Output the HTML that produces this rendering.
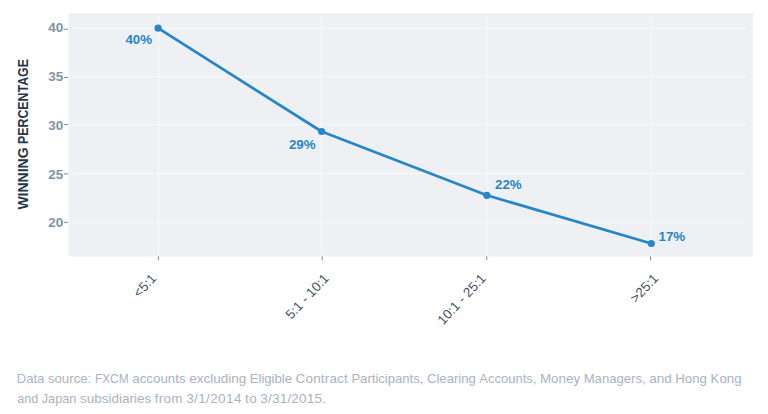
<!DOCTYPE html>
<html><head><meta charset="utf-8">
<style>
html,body{margin:0;padding:0;background:#fff;width:768px;height:414px;overflow:hidden;}
svg{position:absolute;left:0;top:0;}
text{font-family:"Liberation Sans",sans-serif;}
.yt{font-weight:bold;font-size:13.5px;fill:#8193ab;}
.xt{font-size:13.3px;fill:#3e4f63;}
.dl{font-weight:bold;font-size:13.3px;fill:#2686cb;}
.foot{font-size:13.5px;fill:#a8b3c4;}
</style></head>
<body>
<svg width="768" height="414" viewBox="0 0 768 414">
  <rect x="68.5" y="13" width="684.5" height="243.5" fill="#eff0f4"/>
  <g stroke="#f8f9fb" stroke-width="1">
    <line x1="72.7" y1="28.3" x2="746" y2="28.3"/>
    <line x1="72.7" y1="76.6" x2="746" y2="76.6"/>
    <line x1="72.7" y1="124.7" x2="746" y2="124.7"/>
    <line x1="72.7" y1="173.6" x2="746" y2="173.6"/>
    <line x1="72.7" y1="222.8" x2="746" y2="222.8"/>
    <line x1="158.2" y1="16.8" x2="158.2" y2="254"/>
    <line x1="321.5" y1="16.8" x2="321.5" y2="254"/>
    <line x1="486.9" y1="16.8" x2="486.9" y2="254"/>
    <line x1="651.1" y1="16.8" x2="651.1" y2="254"/>
  </g>
  <g stroke="#7a8ca6" stroke-width="1">
    <line x1="64" y1="29.3" x2="68" y2="29.3"/>
    <line x1="64" y1="77.5" x2="68" y2="77.5"/>
    <line x1="64" y1="124.6" x2="68" y2="124.6"/>
    <line x1="64" y1="173.9" x2="68" y2="173.9"/>
    <line x1="64" y1="222.4" x2="68" y2="222.4"/>
    <line x1="158.4" y1="256.3" x2="158.4" y2="260.2"/>
    <line x1="322.2" y1="256.3" x2="322.2" y2="260.2"/>
    <line x1="486.8" y1="256.3" x2="486.8" y2="260.2"/>
    <line x1="650.5" y1="256.3" x2="650.5" y2="260.2"/>
  </g>
  <g class="yt" text-anchor="end">
    <text x="63.4" y="32.2">40</text>
    <text x="63.4" y="81.2">35</text>
    <text x="63.4" y="129.9">30</text>
    <text x="63.4" y="178.6">25</text>
    <text x="63.4" y="227.0">20</text>
  </g>
  <g font-weight="bold" font-size="14" fill="#27374b">
    <text transform="translate(27.8,209.6) rotate(-90)" textLength="62.1" lengthAdjust="spacingAndGlyphs">WINNING</text>
    <text transform="translate(27.8,144) rotate(-90)" textLength="85" lengthAdjust="spacingAndGlyphs">PERCENTAGE</text>
  </g>
  <polyline points="158.1,28.2 321.6,131.5 486.8,195.3 651.3,243.5" fill="none" stroke="#2686cb" stroke-width="2.7" stroke-linejoin="round"/>
  <g fill="#2686cb">
    <circle cx="158.1" cy="28.2" r="3.6"/>
    <circle cx="321.6" cy="131.5" r="3.6"/>
    <circle cx="486.8" cy="195.3" r="3.6"/>
    <circle cx="651.3" cy="243.5" r="3.6"/>
  </g>
  <g class="dl">
    <text x="152" y="44.0" text-anchor="end">40%</text>
    <text x="315.5" y="148.7" text-anchor="end">29%</text>
    <text x="495" y="188.6">22%</text>
    <text x="658.5" y="241.0">17%</text>
  </g>
  <g class="xt" text-anchor="end">
    <text transform="translate(157,279) rotate(-47)">&lt;5:1</text>
    <text transform="translate(329.5,279) rotate(-47)">5:1 - 10:1</text>
    <text transform="translate(486.5,279) rotate(-47)">10:1 - 25:1</text>
    <text transform="translate(659,279) rotate(-47)">&gt;25:1</text>
  </g>
  <g class="foot">
    <text y="383.2"><tspan x="16.69" textLength="27.63" lengthAdjust="spacingAndGlyphs">Data</tspan><tspan x="47.92" textLength="43.37" lengthAdjust="spacingAndGlyphs">source:</tspan><tspan x="94.89" textLength="33.73" lengthAdjust="spacingAndGlyphs">FXCM</tspan><tspan x="132.23" textLength="53.40" lengthAdjust="spacingAndGlyphs">accounts</tspan><tspan x="189.23">excluding</tspan><tspan x="249.79" textLength="42.22" lengthAdjust="spacingAndGlyphs">Eligible</tspan><tspan x="295.61" textLength="52.18" lengthAdjust="spacing">Contract</tspan><tspan x="351.39" textLength="72.02" lengthAdjust="spacingAndGlyphs">Participants,</tspan><tspan x="427.01" textLength="48.76" lengthAdjust="spacingAndGlyphs">Clearing</tspan><tspan x="479.37" textLength="57.02" lengthAdjust="spacingAndGlyphs">Accounts,</tspan><tspan x="539.99" textLength="40.10" lengthAdjust="spacingAndGlyphs">Money</tspan><tspan x="583.69" textLength="61.93" lengthAdjust="spacingAndGlyphs">Managers,</tspan><tspan x="649.23">and</tspan><tspan x="675.29" textLength="31.70" lengthAdjust="spacingAndGlyphs">Hong</tspan><tspan x="710.59" textLength="30.91" lengthAdjust="spacingAndGlyphs">Kong</tspan></text>
    <text y="403.2"><tspan x="17.23" textLength="20.96" lengthAdjust="spacingAndGlyphs">and</tspan><tspan x="41.79" textLength="34.54" lengthAdjust="spacingAndGlyphs">Japan</tspan><tspan x="79.92">subsidiaries</tspan><tspan x="154.51" textLength="28.08" lengthAdjust="spacing">from</tspan><tspan x="186.19" textLength="55.21" lengthAdjust="spacing">3/1/2014</tspan><tspan x="245.00" textLength="11.69" lengthAdjust="spacing">to</tspan><tspan x="260.29" textLength="65.71" lengthAdjust="spacing">3/31/2015.</tspan></text>
  </g>
</svg>
</body></html>
